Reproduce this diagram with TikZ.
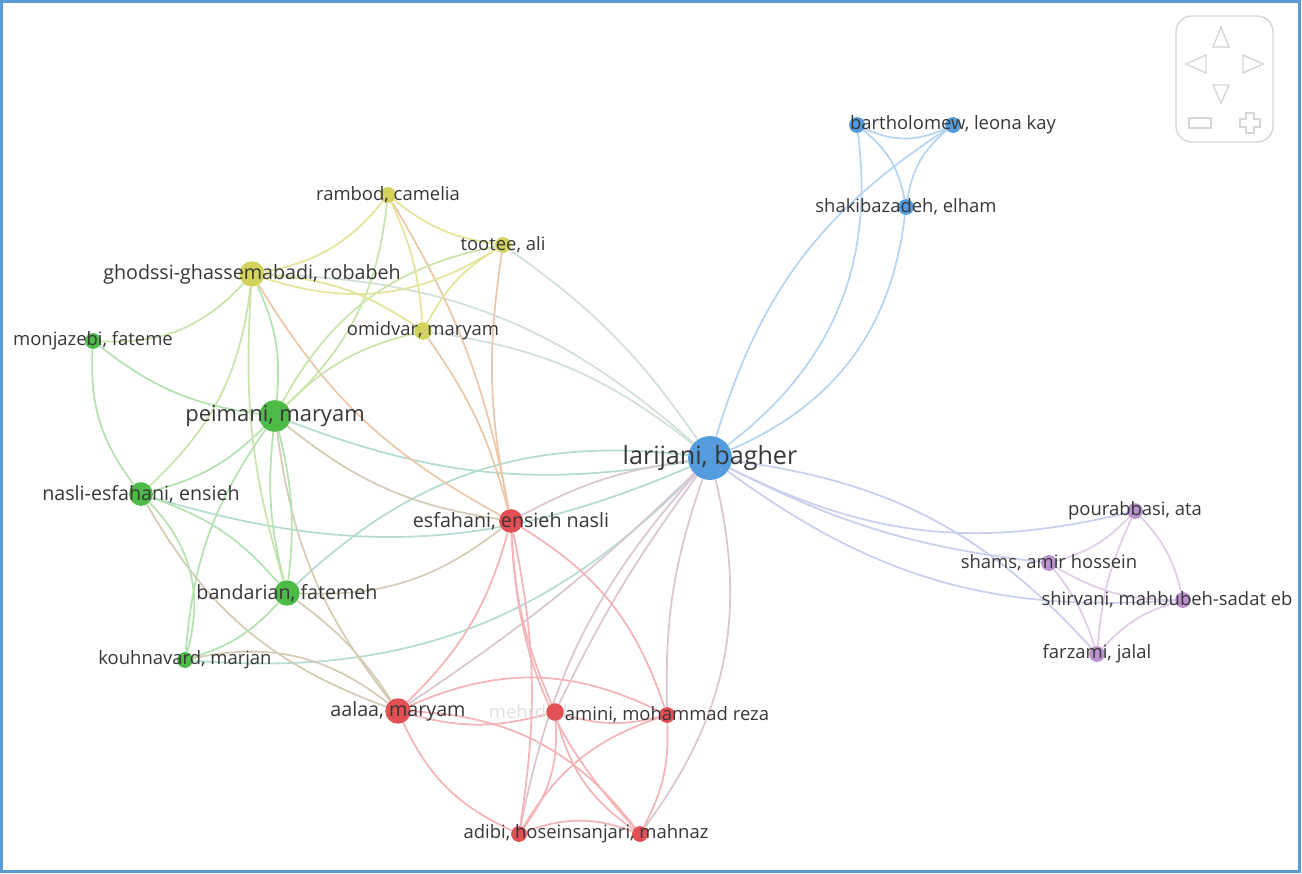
\documentclass[tikz,border=0pt]{standalone}
\usepackage{fontspec}
\setmainfont{Open Sans}
\usetikzlibrary{positioning, shapes.geometric, backgrounds, calc}

\definecolor{vosblue}{RGB}{84,156,222}
\definecolor{vosgreen}{RGB}{78,186,72}
\definecolor{vosred}{RGB}{226,80,84}
\definecolor{vosyellow}{RGB}{210,210,92}
\definecolor{vospurple}{RGB}{186,146,206}
\definecolor{labelgray}{RGB}{55,55,55}
\definecolor{frameblue}{RGB}{91,155,213}
\definecolor{navgray}{RGB}{214,214,214}

\colorlet{eblue}{vosblue!42}
\colorlet{egreen}{vosgreen!42}
\colorlet{ered}{vosred!42}
\colorlet{eyellow}{vosyellow!60}
\colorlet{epurple}{vospurple!45}
\colorlet{ebg}{vosblue!50!vosgreen!42}
\colorlet{eby}{vosblue!50!vosyellow!42}
\colorlet{ebr}{vosblue!45!vosred!40}
\colorlet{ebp}{vosblue!50!vospurple!45}
\colorlet{ery}{vosred!50!vosyellow!50}
\colorlet{erg}{vosred!50!vosgreen!42}
\colorlet{egy}{vosgreen!50!vosyellow!48}

\begin{document}
\begin{tikzpicture}[
        x=0.02cm, y=-0.02cm,
        author/.style={circle, fill=#1, inner sep=0pt, minimum size=9pt},
        tiny/.style={font=\fontsize{10.5}{12}\selectfont, text=labelgray},
        mid/.style={font=\fontsize{11.2}{13}\selectfont, text=labelgray},
        lead/.style={font=\fontsize{12.5}{15}\selectfont, text=labelgray},
        hub/.style={font=\fontsize{14.3}{17}\selectfont, text=labelgray},
        link/.style={line width=1pt},
        nav/.style={draw=navgray, line width=0.8pt},
    ]
    \useasboundingbox (0,0) rectangle (1302,873);

    % Draw the blue cluster
    \node[author=vosblue, minimum size=25pt, label={[hub]center:larijani, bagher}] (lar) at (710,458) {};
    \node[author=vosblue] (bar1) at (857,125) {};
    \node[author=vosblue, label={[tiny]center:bartholomew, leona kay}] (bar2) at (953,125) {};
    \node[author=vosblue, label={[tiny]center:shakibazadeh, elham}] (sha) at (906,207) {};

    % Draw the yellow cluster
    \node[author=vosyellow, label={[tiny]center:rambod, camelia}] (ram) at (388,195) {};
    \node[author=vosyellow, label={[tiny]center:tootee, ali}] (too) at (503,245) {};
    \node[author=vosyellow, minimum size=14.5pt, label={[mid]center:ghodssi-ghassemabadi, robabeh}] (gho) at (252,274) {};
    \node[author=vosyellow, minimum size=10pt, label={[tiny]center:omidvar, maryam}] (omi) at (423,331) {};

    % Draw the green cluster
    \node[author=vosgreen, label={[tiny]center:monjazebi, fateme}] (mon) at (93,341) {};
    \node[author=vosgreen, minimum size=18pt, label={[lead]center:peimani, maryam}] (pei) at (275,416) {};
    \node[author=vosgreen, minimum size=13.5pt, label={[mid]center:nasli-esfahani, ensieh}] (nas) at (141,494) {};
    \node[author=vosgreen, minimum size=14.5pt, label={[mid]center:bandarian, fatemeh}] (ban) at (287,593) {};
    \node[author=vosgreen, label={[tiny]center:kouhnavard, marjan}] (kou) at (185,660) {};

    % Draw the red cluster
    \node[author=vosred, minimum size=13.5pt, label={[mid]center:esfahani, ensieh nasli}] (esf) at (511,521) {};
    \node[author=vosred, minimum size=14.5pt, label={[mid]center:aalaa, maryam}] (aal) at (398,711) {};
    \node[tiny, text=black!12, anchor=east] (meh-label) at (574,712) {mehrdad};
    \node[author=vosred, minimum size=10pt] (meh) at (555,712) {};
    \node[author=vosred, label={[tiny]center:amini, mohammad reza}] (ami) at (667,715) {};
    \node[author=vosred] (adi) at (519,834) {};
    \node[author=vosred] (hos) at (640,834) {};
    \node[tiny] (adi-label) at (586,834) {adibi, hoseinsanjari, mahnaz};

    % Draw the purple cluster
    \node[author=vospurple, label={[tiny]center:pourabbasi, ata}] (pou) at (1135,511) {};
    \node[author=vospurple, label={[tiny]center:shams, amir hossein}] (shm) at (1049,563) {};
    \node[author=vospurple, label={[tiny, xshift=-0.32cm]center:shirvani, mahbubeh-sadat eb}] (shi) at (1183,600) {};
    \node[author=vospurple, label={[tiny]center:farzami, jalal}] (far) at (1097,654) {};

    % Connect the co-authors, links stay behind the nodes
    \begin{pgfonlayer}{background}
        \foreach \src / \dst / \col / \bnd in {
                lar/bar1/eblue/-30, lar/bar2/eblue/20, lar/sha/eblue/-30,
                bar1/bar2/eblue/-25, bar1/sha/eblue/20, bar2/sha/eblue/-20,
                lar/gho/eby/-20, lar/omi/eby/-15, lar/too/eby/-10,
                lar/pei/ebg/15, lar/nas/ebg/20, lar/ban/ebg/-25, lar/kou/ebg/25,
                lar/esf/ebr/-10, lar/aal/ebr/5, lar/meh/ebr/-5, lar/ami/ebr/-10,
                lar/adi/ebr/-15, lar/hos/ebr/25,
                lar/pou/ebp/-20, lar/shm/ebp/-10, lar/shi/ebp/-20, lar/far/ebp/20,
                pou/shm/epurple/15, pou/shi/epurple/15, pou/far/epurple/-10,
                shm/shi/epurple/-15, shm/far/epurple/10, shi/far/epurple/-15,
                esf/aal/ered/15, esf/meh/ered/-10, esf/ami/ered/20, esf/adi/ered/10, esf/hos/ered/-20,
                aal/meh/ered/-15, aal/ami/ered/25, aal/adi/ered/-20, aal/hos/ered/25,
                meh/ami/ered/-15, meh/adi/ered/20, meh/hos/ered/-20,
                ami/adi/ered/-20, ami/hos/ered/15, adi/hos/ered/20,
                esf/ram/ery/-10, esf/too/ery/10, esf/omi/ery/-10, esf/gho/ery/15,
                aal/kou/erg/-25, aal/ban/erg/-10, aal/nas/erg/20, aal/pei/erg/15, pei/esf/erg/-15,
                pei/gho/egreen/-15, pei/ram/egy/-20, pei/too/egy/25, pei/omi/egy/15,
                pei/nas/egreen/15, pei/ban/egreen/-10, pei/ban/egreen/10, pei/kou/egreen/-15, pei/mon/egreen/15,
                nas/mon/egreen/20, nas/gho/egy/-20, nas/ban/egreen/15, nas/kou/egreen/30,
                ban/kou/egreen/15, ban/gho/egy/10, ban/esf/erg/-20, mon/gho/egy/-25,
                ram/gho/eyellow/20, ram/too/eyellow/-15, ram/omi/eyellow/10,
                gho/too/eyellow/-25, gho/omi/eyellow/15, too/omi/eyellow/-15}
            \draw[link, draw=\col] (\src) to[bend left=\bnd] (\dst);
    \end{pgfonlayer}

    % Navigation pad
    \draw[nav, rounded corners=9pt] (1176,16) rectangle (1273,142);
    \draw[nav] (1213,47) -- (1221,27) -- (1229,47) -- cycle;
    \draw[nav] (1206,55) -- (1186,64) -- (1206,73) -- cycle;
    \draw[nav] (1243,55) -- (1263,64) -- (1243,73) -- cycle;
    \draw[nav] (1213,85) -- (1221,103) -- (1229,85) -- cycle;
    \draw[nav] (1189,118) rectangle (1211,128);
    \draw[nav] (1246,113) -- (1254,113) -- (1254,119) -- (1260,119) -- (1260,127) -- (1254,127)
        -- (1254,133) -- (1246,133) -- (1246,127) -- (1240,127) -- (1240,119) -- (1246,119) -- cycle;

    % Frame
    \draw[frameblue, line width=1.7pt] (1.5,1.5) rectangle (1299.5,871.5);
\end{tikzpicture}
\end{document}
